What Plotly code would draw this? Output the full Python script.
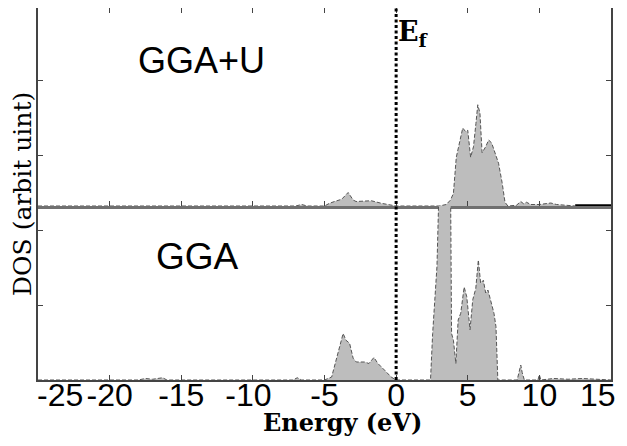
import plotly.graph_objects as go
from plotly.subplots import make_subplots

# ---------------- data ----------------
ggau_energy = [-25, -17, -16.5, -16, -7, -6.6, -6.2, -5.0, -4.65, -4.3, -3.8, -3.35, -3.0, -2.8,
               -2.3, -1.73, -1.0, -0.2, 0, 3.0, 3.5, 3.8, 4.0, 4.2, 4.45, 4.65, 4.86, 5.0, 5.2,
               5.4, 5.57, 5.7, 5.85, 6.0, 6.25, 6.46, 6.67, 6.8, 6.94, 7.15, 7.4, 7.6, 7.8, 8.4,
               8.7, 8.9, 9.1, 9.4, 10.0, 10.8, 11.2, 12.5]
ggau_dos = [0, 0, 0.01, 0, 0, 0.02, 0, 0, 0.036, 0.06, 0.09, 0.18, 0.08, 0.06,
            0.065, 0.07, 0.035, 0, 0, 0, 0.02, 0.08, 0.17, 0.65, 0.85, 1.04, 0.99, 1.01, 0.65,
            0.79, 1.1, 1.35, 1.24, 0.71, 0.79, 0.88, 0.84, 0.77, 0.71, 0.57, 0.31, 0.05, 0.0, 0.01,
            0.06, 0.03, 0.05, 0.02, 0.02, 0.04, 0.02, 0]

ggau_tail_energy = [12.5, 15]
ggau_tail_dos = [0, 0]

gga_energy = [-25, -18, -17.5, -17, -16.3, -16, -7.2, -6.9, -6.6, -5.0, -4.5, -4.17, -3.9, -3.7,
              -3.5, -3.25, -3.0, -2.78, -2.2, -1.9, -1.55, -1.27, -0.8, -0.35, 0, 2.4, 2.55, 2.66,
              2.85, 3.0, 3.8, 3.87, 4.0, 4.17, 4.33, 4.51, 4.75, 4.93, 5.16, 5.35, 5.56, 5.74,
              5.9, 6.09, 6.25, 6.41, 6.6, 6.83, 6.97, 7.04, 7.1, 8.45, 8.6, 8.7, 8.8, 8.95, 9.9,
              10.0, 10.1, 11, 12, 13, 15]
gga_dos = [0, 0, 0.02, 0.01, 0.03, 0, 0, 0.03, 0, 0, 0.04, 0.27, 0.45, 0.62,
           0.53, 0.49, 0.29, 0.24, 0.24, 0.22, 0.3, 0.22, 0.13, 0.04, 0, 0, 0.62, 0.98,
           1.51, 2.6, 2.6, 0.62, 0.53, 0.22, 0.8, 0.89, 1.24, 1.11, 0.67, 1.07, 1.22, 1.6,
           1.29, 1.33, 1.16, 1.2, 1.07, 0.89, 0.71, 0.18, 0.0, 0, 0.1, 0.2, 0.1, 0, 0,
           0.07, 0, 0.02, 0.01, 0.02, 0]

fermi_energy = 0
x_tick_vals = [-25, -20, -15, -10, -5, 0, 5, 10, 15]
x_tick_text = ["\u00a0\u00a0\u00a0\u00a0\u00a0-25", "-20", "-15", "-10\u00a0", "-5", "0", "5",
               "10", "15\u00a0\u00a0\u00a0"]
upper_y_ticks = [0.68, 1.67]
lower_y_ticks = [1, 2]
panel_labels = ["GGA+U", "GGA"]

# ---------------- figure ----------------
fig = make_subplots(rows=2, cols=1, shared_xaxes=True, vertical_spacing=0,
                    row_heights=[198, 174])

fill_col = "#bdbdbd"
edge = dict(color="#555555", width=1, dash="4px,2px")

fig.add_trace(go.Scatter(x=ggau_energy, y=ggau_dos, mode="lines", line=edge,
                         fill="tozeroy", fillcolor=fill_col, showlegend=False), row=1, col=1)
fig.add_trace(go.Scatter(x=ggau_tail_energy, y=ggau_tail_dos, mode="lines",
                         line=dict(color="black", width=3.5), cliponaxis=False,
                         showlegend=False), row=1, col=1)
fig.add_trace(go.Scatter(x=gga_energy, y=gga_dos, mode="lines", line=edge,
                         fill="tozeroy", fillcolor=fill_col, showlegend=False), row=2, col=1)

fig.add_shape(type="line", xref="x", yref="paper", x0=fermi_energy, x1=fermi_energy,
              y0=0, y1=1, line=dict(color="black", width=3, dash="3px,2.5px"))

axis_common = dict(showgrid=False, zeroline=False, ticks="inside", ticklen=5,
                   tickcolor="#444444", showline=True, automargin=False)

fig.update_xaxes(range=[-25, 15], tickvals=x_tick_vals, ticktext=x_tick_text, **axis_common)
fig.update_xaxes(row=1, col=1, showticklabels=False, mirror="ticks",
                 linecolor="#707070", linewidth=2.5)
fig.update_xaxes(row=2, col=1, mirror=False, linecolor="#444444", linewidth=2,
                 tickfont=dict(family="Liberation Sans", size=32, color="black"),
                 ticklabelstandoff=-14, ticklabeloverflow="allow")

fig.update_yaxes(showticklabels=False, mirror="ticks", linecolor="#444444", linewidth=2,
                 **axis_common)
fig.update_yaxes(row=1, col=1, range=[0, 198 / 75], tickvals=upper_y_ticks)
fig.update_yaxes(row=2, col=1, range=[0, 174 / 75], tickvals=lower_y_ticks)

fig.add_annotation(text=panel_labels[0], xref="paper", yref="paper", x=0.286, y=0.860,
                   xanchor="center", yanchor="middle", showarrow=False,
                   font=dict(family="Liberation Sans", size=36, color="black"))
fig.add_annotation(text=panel_labels[1], xref="paper", yref="paper", x=0.2775, y=0.331,
                   xanchor="center", yanchor="middle", showarrow=False,
                   font=dict(family="Liberation Sans", size=37, color="black"))
fig.add_annotation(text="E<sub>f</sub>", xref="x", yref="paper", x=fermi_energy, y=0.983,
                   xanchor="left", yanchor="top", xshift=0, showarrow=False,
                   font=dict(family="DejaVu Serif", size=27, color="black", weight="bold"))
fig.add_annotation(text="DOS (arbit uint)", xref="paper", yref="paper", x=-0.028, y=0.5,
                   xanchor="center", yanchor="middle", textangle=-90, showarrow=False,
                   font=dict(family="DejaVu Serif", size=25, color="black"))
fig.add_annotation(text="Energy (eV)", xref="paper", yref="paper", x=0.532, y=-0.113,
                   xanchor="center", yanchor="middle", showarrow=False,
                   font=dict(family="DejaVu Serif", size=24, color="black", weight="bold"))

# the page body has an 8px margin: size the figure so that the plot lands where the
# reference has it and the page does not overflow the 627x446 window
fig.update_layout(width=619, height=429, margin=dict(l=30, r=16, t=0, b=57),
                  paper_bgcolor="white", plot_bgcolor="white")

fig.write_html("out.html")
